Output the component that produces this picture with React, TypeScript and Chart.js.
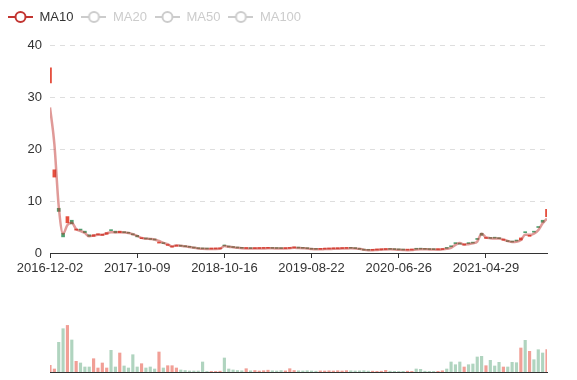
import React, { useEffect, useRef } from 'react';
import { Chart, registerables } from 'chart.js';

Chart.register(...registerables);

// x-axis tick labels (one every TICK_STEP periods)
const TICK_LABELS = ['2016-12-02', '2017-10-09', '2018-10-16', '2019-08-22', '2020-06-26', '2021-04-29'];
const TICK_STEP = 20;
const X_MAX = 114;

const SERIES_NAMES = ['MA10', 'MA20', 'MA50', 'MA100'];
const HIDDEN_SERIES = ['MA20', 'MA50', 'MA100'];

const MA10 = [
  28, 21, 9.0, 3.7, 5.4, 5.8, 4.6, 4.2, 3.85, 3.2,
  3.35, 3.5, 3.5, 3.8, 4.0, 3.95, 4.0, 3.95, 3.85, 3.6,
  3.3, 2.9, 2.75, 2.7, 2.6, 2.3, 1.95, 1.7, 1.25, 1.5,
  1.4, 1.3, 1.15, 1.0, 0.88, 0.8, 0.78, 0.78, 0.78, 0.8,
  1.35, 1.2, 1.1, 1.0, 0.92, 0.88, 0.86, 0.85, 0.86, 0.88,
  0.9, 0.9, 0.88, 0.86, 0.85, 0.92, 1.0, 0.96, 0.92, 0.88,
  0.76, 0.7, 0.72, 0.75, 0.78, 0.8, 0.83, 0.86, 0.88, 0.9,
  0.88, 0.8, 0.62, 0.52, 0.55, 0.6, 0.64, 0.68, 0.7, 0.68,
  0.62, 0.58, 0.55, 0.58, 0.68, 0.74, 0.72, 0.68, 0.65, 0.64,
  0.7, 0.8, 1.0, 1.55, 1.9, 1.6, 1.7, 1.85, 2.2, 3.7,
  3.0, 2.85, 2.8, 2.8, 2.6, 2.3, 2.1, 2.15, 2.5, 3.5,
  3.5, 3.7, 4.4, 5.7, 6.6,
];

const OPEN = [
  32.7, 14.6, 8.6, 3.8, 5.8, 6.3, 4.4, 4.6, 4.2, 3.5,
  3.2, 3.5, 3.4, 3.6, 4.4, 4.2, 3.9, 4.1, 3.9, 3.7,
  3.4, 2.75, 2.8, 2.7, 2.6, 1.9, 1.95, 1.45, 1.15, 1.3,
  1.4, 1.3, 1.15, 1.05, 0.9, 0.8, 0.78, 0.76, 0.78, 0.8,
  1.5, 1.3, 1.12, 1.0, 0.94, 0.86, 0.9, 0.84, 0.86, 0.88,
  0.9, 0.92, 0.88, 0.86, 0.84, 0.88, 0.98, 1.0, 0.94, 0.9,
  0.8, 0.72, 0.7, 0.74, 0.77, 0.8, 0.82, 0.85, 0.88, 0.91,
  0.9, 0.82, 0.68, 0.56, 0.52, 0.58, 0.62, 0.66, 0.71, 0.69,
  0.65, 0.6, 0.55, 0.57, 0.75, 0.78, 0.75, 0.7, 0.66, 0.64,
  0.66, 0.96, 1.3, 1.95, 1.85, 1.55, 1.9, 2.0, 2.8, 3.8,
  2.8, 2.95, 2.9, 2.8, 2.45, 2.3, 2.2, 2.4, 2.5, 4.1,
  3.2, 4.1, 5.0, 6.3, 7.0,
];

const CLOSE = [
  35.6, 16.0, 8.0, 3.1, 7.0, 5.6, 4.6, 4.4, 3.9, 3.2,
  3.5, 3.6, 3.5, 3.9, 4.3, 3.9, 4.2, 3.9, 3.8, 3.5,
  3.1, 2.8, 2.7, 2.6, 2.5, 2.0, 1.8, 1.5, 1.3, 1.4,
  1.3, 1.2, 1.1, 0.95, 0.82, 0.78, 0.76, 0.78, 0.8, 0.82,
  1.35, 1.15, 1.05, 0.95, 0.9, 0.9, 0.84, 0.86, 0.88, 0.9,
  0.92, 0.88, 0.86, 0.84, 0.88, 0.98, 1.02, 0.94, 0.9, 0.82,
  0.72, 0.7, 0.74, 0.77, 0.8, 0.82, 0.85, 0.88, 0.9, 0.9,
  0.84, 0.7, 0.55, 0.52, 0.58, 0.62, 0.66, 0.7, 0.69, 0.65,
  0.6, 0.56, 0.56, 0.64, 0.72, 0.74, 0.7, 0.66, 0.64, 0.66,
  0.75, 0.88, 1.2, 1.8, 1.7, 1.6, 1.8, 1.9, 2.6, 3.4,
  2.9, 2.8, 2.85, 2.75, 2.5, 2.2, 2.1, 2.3, 2.9, 3.9,
  3.4, 4.0, 4.9, 5.9, 8.4,
];

const VOLUME = [
  6.7, 3, 29.7, 43.3, 46.6, 32, 10.7, 9, 5, 5,
  13.3, 4, 9, 4, 21.7, 5, 19, 6, 4, 17.3,
  5, 8.3, 4, 5, 3, 20, 4, 6.3, 6.3, 4,
  2, 1.5, 1, 1, 1, 10, 0.6, 0.6, 0.6, 0.8,
  14, 3, 2, 1.5, 1.2, 3.3, 1.2, 1.5, 1.0, 1.3,
  1.8, 1.2, 1.0, 1.4, 1.1, 3.3, 1.5, 1.2, 1.0, 1.3,
  1.0, 0.8, 1.1, 1.0, 1.2, 1.0, 1.3, 1.0, 1.4, 1.2,
  1.0, 1.1, 1.3, 0.9, 0.8, 0.7, 0.8, 1.7, 0.8, 0.7,
  0.6, 0.7, 0.8, 0.6, 3, 2.7, 0.8, 0.7, 0.6, 0.7,
  1.2, 3, 10, 7.3, 10, 5, 7.3, 8, 15, 15.7,
  6.3, 11.7, 6, 9.7, 5, 5, 9.7, 9.3, 24, 31.7,
  20.7, 12.3, 22.3, 19, 22.3,
];

const Y_TICK_STEP = 10;
const Y_MAX = 40;
const VOL_MAX = 54;

const FONT_FAMILY = '"Liberation Sans", Arial, sans-serif';
const UP_COLOR = '#e5503f';
const DOWN_COLOR = '#4f9f70';
const UP_VOL = 'rgba(229, 80, 63, 0.55)';
const DOWN_VOL = 'rgba(79, 159, 112, 0.45)';
const MA_COLOR = '#c23531';
const INACTIVE = '#cccccc';

function makeIcon(color: string) {
  const c = document.createElement('canvas');
  c.width = 25;
  c.height = 14;
  const ctx = c.getContext('2d')!;
  ctx.strokeStyle = color;
  ctx.lineWidth = 2;
  ctx.beginPath();
  ctx.moveTo(0, 7);
  ctx.lineTo(25, 7);
  ctx.stroke();
  ctx.beginPath();
  ctx.arc(12.5, 7, 5, 0, Math.PI * 2);
  ctx.fillStyle = '#fff';
  ctx.fill();
  ctx.stroke();
  return c;
}

export default function App() {
  const priceRef = useRef<HTMLCanvasElement>(null);
  const volRef = useRef<HTMLCanvasElement>(null);

  useEffect(() => {
    const isUp = CLOSE.map((c, i) => c >= OPEN[i]);
    const icons: Record<string, HTMLCanvasElement> = {};
    SERIES_NAMES.forEach((n) => {
      icons[n] = makeIcon(HIDDEN_SERIES.includes(n) ? INACTIVE : MA_COLOR);
    });
    const font = { family: FONT_FAMILY, size: 13 };

    const lineSets: any[] = SERIES_NAMES.map((name) => ({
      type: 'line',
      label: name,
      data: name === 'MA10' ? MA10.map((v, i) => ({ x: i, y: v })) : [],
      hidden: HIDDEN_SERIES.includes(name),
      borderColor: 'rgba(194, 53, 49, 0.5)',
      borderWidth: 2.5,
      pointRadius: 0,
      cubicInterpolationMode: 'monotone',
      order: 0,
    }));

    const price = new Chart(priceRef.current!, {
      type: 'bar',
      data: {
        datasets: [
          ...lineSets,
          {
            type: 'bar',
            label: 'K',
            data: CLOSE.map((c, i) => ({ x: i, y: [OPEN[i], c] })),
            backgroundColor: isUp.map((u) => (u ? UP_COLOR : DOWN_COLOR)),
            barThickness: 3,
            minBarLength: 1,
            order: 1,
          },
        ],
      } as any,
      options: {
        responsive: false,
        animation: false,
        layout: { padding: { left: 0, right: 30, top: 2.5, bottom: 0 } },
        plugins: {
          tooltip: { enabled: false },
          title: {
            display: true,
            text: '',
            weight: 500,
            font: { size: 5 },
            padding: { top: 5.5, bottom: 0 },
          },
          legend: {
            display: true,
            position: 'top',
            align: 'start',
            onClick: () => {},
            labels: {
              usePointStyle: true,
              pointStyleWidth: 25,
              boxHeight: 14,
              padding: 8,
              font,
              color: '#333',
              generateLabels: (chart: any) =>
                chart.data.datasets
                  .map((ds: any, i: number) => ({ ds, i }))
                  .filter(({ ds }: any) => ds.type === 'line')
                  .map(({ ds, i }: any) => ({
                    text: ds.label,
                    datasetIndex: i,
                    hidden: false,
                    pointStyle: icons[ds.label],
                    fontColor: ds.hidden ? INACTIVE : '#333',
                    fillStyle: 'transparent',
                    strokeStyle: 'transparent',
                    lineWidth: 0,
                  })),
            },
          },
        },
        scales: {
          x: {
            type: 'linear',
            min: 0,
            max: X_MAX,
            offset: false,
            afterBuildTicks: (s: any) => {
              s.ticks = TICK_LABELS.map((_, k) => ({ value: k * TICK_STEP }));
            },
            afterFit: (s: any) => {
              s.height = 27;
            },
            ticks: {
              callback: (v: any) => TICK_LABELS[Math.round(Number(v) / TICK_STEP)] ?? '',
              autoSkip: false,
              maxRotation: 0,
              padding: 3,
              color: '#333',
              font,
            },
            grid: { offset: false, drawOnChartArea: false, drawTicks: true, tickLength: 5, color: '#333' },
            border: { color: '#333', width: 1 },
          },
          y: {
            min: 0,
            max: Y_MAX,
            afterFit: (s: any) => {
              s.width = 50;
            },
            ticks: { stepSize: Y_TICK_STEP, color: '#333', font, padding: 8 },
            grid: { color: '#dedede', drawTicks: false },
            border: { display: false, dash: [5, 5] },
          },
        },
      } as any,
    });

    const vol = new Chart(volRef.current!, {
      type: 'bar',
      data: {
        datasets: [
          {
            label: 'Volume',
            data: VOLUME.map((v, i) => ({ x: i, y: v })),
            backgroundColor: isUp.map((u) => (u ? UP_VOL : DOWN_VOL)),
            barThickness: 2.5,
          },
        ],
      },
      options: {
        responsive: false,
        animation: false,
        layout: { padding: { left: 50, right: 30, top: 0, bottom: 4 } },
        plugins: { legend: { display: false }, tooltip: { enabled: false } },
        scales: {
          x: {
            type: 'linear',
            min: 0,
            max: X_MAX,
            offset: false,
            afterFit: (s: any) => {
              s.height = 0;
            },
            ticks: { display: false },
            grid: { display: false, drawTicks: false, offset: false },
            border: { display: true, color: '#333', width: 1 },
          },
          y: { display: false, min: 0, max: VOL_MAX },
        },
      } as any,
    });

    return () => {
      price.destroy();
      vol.destroy();
    };
  }, []);

  return (
    <div style={{ position: 'fixed', left: 0, top: 0, width: 577, height: 380, background: '#fff' }}>
      <canvas
        ref={priceRef}
        width={577}
        height={280}
        style={{ position: 'absolute', left: 0, top: 0, width: 577, height: 280 }}
      />
      <canvas
        ref={volRef}
        width={577}
        height={58}
        style={{ position: 'absolute', left: 0, top: 318, width: 577, height: 58 }}
      />
    </div>
  );
}
